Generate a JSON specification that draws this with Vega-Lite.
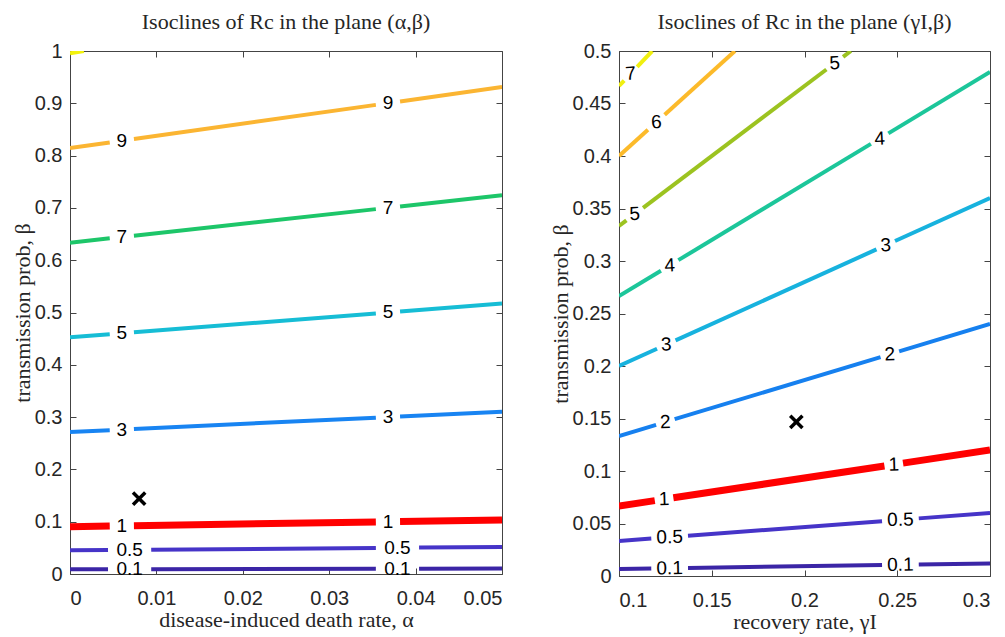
{
  "$schema": "https://vega.github.io/schema/vega-lite/v6.json",
  "padding": {"left": 10, "top": 10, "right": 5, "bottom": 5},
  "background": "white",
  "spacing": 45,
  "resolve": {"scale": {"color": "independent"}},
  "config": {
    "font": "Liberation Sans",
    "view": {"stroke": "#444444", "strokeWidth": 1},
    "axis": {
      "grid": false,
      "domain": false,
      "labelFont": "Liberation Sans",
      "labelFontSize": 20,
      "labelColor": "#262626",
      "tickColor": "#444444",
      "tickSize": -6,
      "labelPadding": 14,
      "titleFont": "Liberation Serif",
      "titleFontSize": 22,
      "titleFontWeight": "normal",
      "titleColor": "#262626"
    },
    "axisBottom": {"labelPadding": 20},
    "title": {"font": "Liberation Serif", "fontSize": 22, "fontWeight": "normal", "color": "#262626", "offset": 7}
  },
  "datasets": {
    "leftLines": [
      {"level": "0.1", "seg": "a", "x": 0, "y": 0.00905}, {"level": "0.1", "seg": "a", "x": 0.0044, "y": 0.00916},
      {"level": "0.1", "seg": "b", "x": 0.0094, "y": 0.00929}, {"level": "0.1", "seg": "b", "x": 0.0354, "y": 0.00997},
      {"level": "0.1", "seg": "c", "x": 0.0404, "y": 0.0101}, {"level": "0.1", "seg": "c", "x": 0.05, "y": 0.01034},
      {"level": "0.5", "seg": "a", "x": 0, "y": 0.04525}, {"level": "0.5", "seg": "a", "x": 0.0044, "y": 0.04582},
      {"level": "0.5", "seg": "b", "x": 0.0094, "y": 0.04647}, {"level": "0.5", "seg": "b", "x": 0.0354, "y": 0.04983},
      {"level": "0.5", "seg": "c", "x": 0.0404, "y": 0.05048}, {"level": "0.5", "seg": "c", "x": 0.05, "y": 0.05172},
      {"level": "1", "seg": "a", "x": 0, "y": 0.0905}, {"level": "1", "seg": "a", "x": 0.0046, "y": 0.09169},
      {"level": "1", "seg": "b", "x": 0.0074, "y": 0.09242}, {"level": "1", "seg": "b", "x": 0.0354, "y": 0.09966},
      {"level": "1", "seg": "c", "x": 0.0382, "y": 0.10039}, {"level": "1", "seg": "c", "x": 0.05, "y": 0.10344},
      {"level": "3", "seg": "a", "x": 0, "y": 0.2715}, {"level": "3", "seg": "a", "x": 0.0046, "y": 0.27507},
      {"level": "3", "seg": "b", "x": 0.0074, "y": 0.27725}, {"level": "3", "seg": "b", "x": 0.0354, "y": 0.29899},
      {"level": "3", "seg": "c", "x": 0.0382, "y": 0.30116}, {"level": "3", "seg": "c", "x": 0.05, "y": 0.31033},
      {"level": "5", "seg": "a", "x": 0, "y": 0.4525}, {"level": "5", "seg": "a", "x": 0.0046, "y": 0.45845},
      {"level": "5", "seg": "b", "x": 0.0074, "y": 0.46208}, {"level": "5", "seg": "b", "x": 0.0354, "y": 0.49831},
      {"level": "5", "seg": "c", "x": 0.0382, "y": 0.50194}, {"level": "5", "seg": "c", "x": 0.05, "y": 0.51721},
      {"level": "7", "seg": "a", "x": 0, "y": 0.6335}, {"level": "7", "seg": "a", "x": 0.0046, "y": 0.64183},
      {"level": "7", "seg": "b", "x": 0.0074, "y": 0.64691}, {"level": "7", "seg": "b", "x": 0.0354, "y": 0.69764},
      {"level": "7", "seg": "c", "x": 0.0382, "y": 0.70271}, {"level": "7", "seg": "c", "x": 0.05, "y": 0.72409},
      {"level": "9", "seg": "a", "x": 0, "y": 0.8145}, {"level": "9", "seg": "a", "x": 0.0046, "y": 0.82522},
      {"level": "9", "seg": "b", "x": 0.0074, "y": 0.83174}, {"level": "9", "seg": "b", "x": 0.0354, "y": 0.89697},
      {"level": "9", "seg": "c", "x": 0.0382, "y": 0.90349}, {"level": "9", "seg": "c", "x": 0.05, "y": 0.93098},
      {"level": "11", "seg": "a", "x": 0, "y": 0.9955}, {"level": "11", "seg": "a", "x": 0.0016, "y": 1.0}
    ],
    "leftLabels": [
      {"level": "0.1", "x": 0.0069, "y": 0.00923}, {"level": "0.1", "x": 0.0379, "y": 0.01003},
      {"level": "0.5", "x": 0.0069, "y": 0.04614}, {"level": "0.5", "x": 0.0379, "y": 0.05015},
      {"level": "1", "x": 0.006, "y": 0.09205}, {"level": "1", "x": 0.0368, "y": 0.10002},
      {"level": "3", "x": 0.006, "y": 0.27616}, {"level": "3", "x": 0.0368, "y": 0.30008},
      {"level": "5", "x": 0.006, "y": 0.46027}, {"level": "5", "x": 0.0368, "y": 0.50013},
      {"level": "7", "x": 0.006, "y": 0.64437}, {"level": "7", "x": 0.0368, "y": 0.70017},
      {"level": "9", "x": 0.006, "y": 0.82848}, {"level": "9", "x": 0.0368, "y": 0.90023}
    ],
    "leftMarker": [{"x": 0.008, "y": 0.144}],
    "rightLines": [
      {"level": "0.1", "seg": "a", "x": 0.1, "y": 0.00667}, {"level": "0.1", "seg": "a", "x": 0.1174, "y": 0.00713},
      {"level": "0.1", "seg": "b", "x": 0.1372, "y": 0.00766}, {"level": "0.1", "seg": "b", "x": 0.2418, "y": 0.01045},
      {"level": "0.1", "seg": "c", "x": 0.2616, "y": 0.01098}, {"level": "0.1", "seg": "c", "x": 0.3, "y": 0.012},
      {"level": "0.5", "seg": "a", "x": 0.1, "y": 0.03333}, {"level": "0.5", "seg": "a", "x": 0.1174, "y": 0.03565},
      {"level": "0.5", "seg": "b", "x": 0.1372, "y": 0.03829}, {"level": "0.5", "seg": "b", "x": 0.2418, "y": 0.05224},
      {"level": "0.5", "seg": "c", "x": 0.2616, "y": 0.05488}, {"level": "0.5", "seg": "c", "x": 0.3, "y": 0.06},
      {"level": "1", "seg": "a", "x": 0.1, "y": 0.06667}, {"level": "1", "seg": "a", "x": 0.1193, "y": 0.07181},
      {"level": "1", "seg": "b", "x": 0.1293, "y": 0.07448}, {"level": "1", "seg": "b", "x": 0.2431, "y": 0.10483},
      {"level": "1", "seg": "c", "x": 0.2531, "y": 0.10749}, {"level": "1", "seg": "c", "x": 0.3, "y": 0.12},
      {"level": "2", "seg": "a", "x": 0.1, "y": 0.13333}, {"level": "2", "seg": "a", "x": 0.12, "y": 0.144},
      {"level": "2", "seg": "b", "x": 0.13, "y": 0.14933}, {"level": "2", "seg": "b", "x": 0.241, "y": 0.20853},
      {"level": "2", "seg": "c", "x": 0.251, "y": 0.21387}, {"level": "2", "seg": "c", "x": 0.3, "y": 0.24},
      {"level": "3", "seg": "a", "x": 0.1, "y": 0.2}, {"level": "3", "seg": "a", "x": 0.1205, "y": 0.2164},
      {"level": "3", "seg": "b", "x": 0.1305, "y": 0.2244}, {"level": "3", "seg": "b", "x": 0.2388, "y": 0.31104},
      {"level": "3", "seg": "c", "x": 0.2488, "y": 0.31904}, {"level": "3", "seg": "c", "x": 0.3, "y": 0.36},
      {"level": "4", "seg": "a", "x": 0.1, "y": 0.26667}, {"level": "4", "seg": "a", "x": 0.1226, "y": 0.29077},
      {"level": "4", "seg": "b", "x": 0.132, "y": 0.3008}, {"level": "4", "seg": "b", "x": 0.2358, "y": 0.41152},
      {"level": "4", "seg": "c", "x": 0.2452, "y": 0.42155}, {"level": "4", "seg": "c", "x": 0.3, "y": 0.48},
      {"level": "5", "seg": "a", "x": 0.1, "y": 0.33333}, {"level": "5", "seg": "a", "x": 0.104, "y": 0.33867},
      {"level": "5", "seg": "b", "x": 0.113, "y": 0.35067}, {"level": "5", "seg": "b", "x": 0.2118, "y": 0.4824},
      {"level": "5", "seg": "c", "x": 0.2208, "y": 0.4944}, {"level": "5", "seg": "c", "x": 0.225, "y": 0.5},
      {"level": "6", "seg": "a", "x": 0.1, "y": 0.4}, {"level": "6", "seg": "a", "x": 0.1156, "y": 0.42496},
      {"level": "6", "seg": "b", "x": 0.1246, "y": 0.43936}, {"level": "6", "seg": "b", "x": 0.1625, "y": 0.5},
      {"level": "7", "seg": "a", "x": 0.1, "y": 0.46667}, {"level": "7", "seg": "a", "x": 0.1028, "y": 0.47189},
      {"level": "7", "seg": "b", "x": 0.1098, "y": 0.48496}, {"level": "7", "seg": "b", "x": 0.1179, "y": 0.5}
    ],
    "rightLabels": [
      {"level": "0.1", "x": 0.1273, "y": 0.0074}, {"level": "0.1", "x": 0.2517, "y": 0.01071},
      {"level": "0.5", "x": 0.1273, "y": 0.03697}, {"level": "0.5", "x": 0.2517, "y": 0.05356},
      {"level": "1", "x": 0.1243, "y": 0.07315}, {"level": "1", "x": 0.2481, "y": 0.10616},
      {"level": "2", "x": 0.125, "y": 0.14667}, {"level": "2", "x": 0.246, "y": 0.2112},
      {"level": "3", "x": 0.1255, "y": 0.2204}, {"level": "3", "x": 0.2438, "y": 0.315},
      {"level": "4", "x": 0.1273, "y": 0.2958}, {"level": "4", "x": 0.2405, "y": 0.4165},
      {"level": "5", "x": 0.1085, "y": 0.3447}, {"level": "5", "x": 0.2163, "y": 0.4884},
      {"level": "6", "x": 0.1201, "y": 0.4322},
      {"level": "7", "x": 0.1063, "y": 0.4784}
    ],
    "rightMarker": [{"x": 0.1956, "y": 0.1467}]
  },
  "hconcat": [
    {
      "width": 432,
      "height": 523,
      "title": {"text": "Isoclines of Rc in the plane (α,β)"},
      "resolve": {"axis": {"x": "independent", "y": "independent"}},
      "layer": [
        {
          "data": {"name": "leftLines"},
          "mark": {"type": "line", "strokeCap": "butt", "clip": true},
          "encoding": {
            "x": {"field": "x", "type": "quantitative", "scale": {"domain": [0, 0.05], "nice": false, "zero": false},
                  "axis": {"orient": "bottom", "values": [0, 0.01, 0.02, 0.03, 0.04, 0.05], "format": "~g", "title": "disease-induced death rate, α", "titlePadding": 1}},
            "y": {"field": "y", "type": "quantitative", "scale": {"domain": [0, 1], "nice": false},
                  "axis": {"orient": "left", "values": [0, 0.1, 0.2, 0.3, 0.4, 0.5, 0.6, 0.7, 0.8, 0.9, 1], "format": "~g", "title": "transmission prob, β", "titlePadding": 0}},
            "detail": {"field": "seg"},
            "color": {"field": "level", "type": "nominal", "legend": null,
                      "scale": {"domain": ["0.1", "0.5", "1", "3", "5", "7", "9", "11"],
                                "range": ["#3b25a6", "#4634c8", "#ff0000", "#1884f2", "#16bdd5", "#1dc669", "#fbb532", "#f2f20c"]}},
            "strokeWidth": {"condition": {"test": "datum.level === '1'", "value": 7}, "value": 4}
          }
        },
        {
          "data": {"name": "leftLabels"},
          "mark": {"type": "text", "font": "Liberation Sans", "fontSize": 19, "color": "black", "align": "center", "baseline": "middle"},
          "encoding": {
            "x": {"field": "x", "type": "quantitative", "axis": {"orient": "top", "values": [0, 0.01, 0.02, 0.03, 0.04, 0.05], "labels": false, "title": null}},
            "y": {"field": "y", "type": "quantitative", "axis": {"orient": "right", "values": [0, 0.1, 0.2, 0.3, 0.4, 0.5, 0.6, 0.7, 0.8, 0.9, 1], "labels": false, "title": null}},
            "text": {"field": "level"}
          }
        },
        {
          "data": {"name": "leftMarker"},
          "mark": {"type": "point", "shape": "M-1,-1L1,1M-1,1L1,-1", "filled": false, "color": "black", "strokeWidth": 3.5, "size": 150, "opacity": 1},
          "encoding": {
            "x": {"field": "x", "type": "quantitative", "axis": null},
            "y": {"field": "y", "type": "quantitative", "axis": null}
          }
        }
      ]
    },
    {
      "width": 371,
      "height": 525,
      "title": {"text": "Isoclines of Rc in the plane (γI,β)"},
      "resolve": {"axis": {"x": "independent", "y": "independent"}},
      "layer": [
        {
          "data": {"name": "rightLines"},
          "mark": {"type": "line", "strokeCap": "butt", "clip": true},
          "encoding": {
            "x": {"field": "x", "type": "quantitative", "scale": {"domain": [0.1, 0.3], "nice": false, "zero": false},
                  "axis": {"orient": "bottom", "values": [0.1, 0.15, 0.2, 0.25, 0.3], "format": "~g", "title": "recovery rate, γI", "titlePadding": 1}},
            "y": {"field": "y", "type": "quantitative", "scale": {"domain": [0, 0.5], "nice": false},
                  "axis": {"orient": "left", "values": [0, 0.05, 0.1, 0.15, 0.2, 0.25, 0.3, 0.35, 0.4, 0.45, 0.5], "format": "~g", "title": "transmission prob, β", "titlePadding": 0}},
            "detail": {"field": "seg"},
            "color": {"field": "level", "type": "nominal", "legend": null,
                      "scale": {"domain": ["0.1", "0.5", "1", "2", "3", "4", "5", "6", "7"],
                                "range": ["#3b25a6", "#4634c8", "#ff0000", "#1680ef", "#17b2de", "#1cc69a", "#9cc320", "#fcba2a", "#f0ef10"]}},
            "strokeWidth": {"condition": {"test": "datum.level === '1'", "value": 7}, "value": 4}
          }
        },
        {
          "data": {"name": "rightLabels"},
          "mark": {"type": "text", "font": "Liberation Sans", "fontSize": 19, "color": "black", "align": "center", "baseline": "middle"},
          "encoding": {
            "x": {"field": "x", "type": "quantitative", "axis": {"orient": "top", "values": [0.1, 0.15, 0.2, 0.25, 0.3], "labels": false, "title": null}},
            "y": {"field": "y", "type": "quantitative", "axis": {"orient": "right", "values": [0, 0.05, 0.1, 0.15, 0.2, 0.25, 0.3, 0.35, 0.4, 0.45, 0.5], "labels": false, "title": null}},
            "text": {"field": "level"},
            "angle": {"field": "level", "type": "nominal", "legend": null,
                      "scale": {"domain": ["0.1", "0.5", "1", "2", "3", "4", "5", "6", "7"],
                                "range": [359, 356, 351, 343, 336, 329, 323, 318, 313]}}
          }
        },
        {
          "data": {"name": "rightMarker"},
          "mark": {"type": "point", "shape": "M-1,-1L1,1M-1,1L1,-1", "filled": false, "color": "black", "strokeWidth": 3.5, "size": 150, "opacity": 1},
          "encoding": {
            "x": {"field": "x", "type": "quantitative", "axis": null},
            "y": {"field": "y", "type": "quantitative", "axis": null}
          }
        }
      ]
    }
  ]
}
